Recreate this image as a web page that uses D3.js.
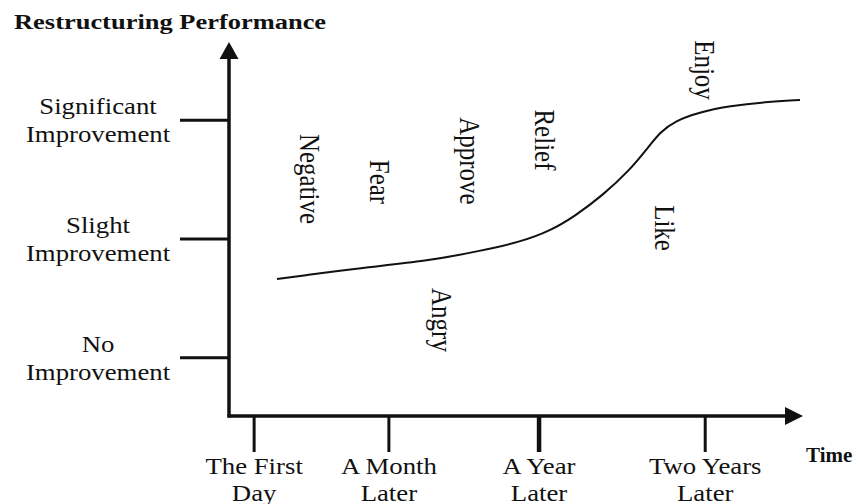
<!DOCTYPE html>
<html>
<head>
<meta charset="utf-8">
<script src="https://cdn.jsdelivr.net/npm/d3@7"></script>
<style>
    html, body { margin: 0; padding: 0; background: #fff; }
    #chart { width: 862px; height: 504px; }
    text { font-family: "Liberation Serif", "Times New Roman", serif; fill: #111; }
</style>
</head>
<body>
<div id="chart"></div>
<script>
//Datos
const yValues = [0, 1, 2];
const yLabels = [['No', 'Improvement'], ['Slight', 'Improvement'], ['Significant', 'Improvement']];

const xValues = [4.4, 28.0, 54.3, 83.4];
const xLabels = [['The First', 'Day'], ['A Month', 'Later'], ['A Year', 'Later'], ['Two Years', 'Later']];

//Curva de rendimiento
const curveX = [8.4, 12.4, 22.9, 34.7, 44.0, 51.0, 56.2, 60.6, 65.5, 70.2, 73.2, 75.5, 78.1, 82.5, 87.7, 93.9, 100];
const curveY = [0.664, 0.689, 0.757, 0.815, 0.900, 0.976, 1.068, 1.194, 1.371, 1.582, 1.759, 1.902, 1.995, 2.070, 2.121, 2.155, 2.172];

//Emociones
const emotions = ['Negative', 'Fear', 'Approve', 'Relief', 'Enjoy', 'Like', 'Angry'];
const emotionX = [12.4, 24.7, 40.5, 53.6, 81.6, 74.6, 35.6];
const emotionY = [1.506, 1.481, 1.658, 1.835, 2.424, 1.093, 0.319];

const COLOR_INK = '#111';

let width = 862, height = 504;

let svg = d3.select('#chart')
    .append('svg')
        .attr('width', width)
        .attr('height', height);

//Escalas
let x = d3.scaleLinear()
    .domain([0, 100])
    .range([229, 800]);

let y = d3.scaleLinear()
    .domain([-0.49, 2.66])
    .range([416, 42]);

let x0 = x(0), y0 = y(-0.49);

//Titulo
svg.append('text')
    .attr('transform', 'translate(14,29) scale(1.26,1)')
    .style('font-size', '21px')
    .style('font-weight', 'bold')
    .text('Restructuring Performance');

svg.append('text')
    .attr('transform', 'translate(806,462)')
    .style('font-size', '21px')
    .style('font-weight', 'bold')
    .text('Time');

//Eje Y
svg.append('line')
    .attr('x1', x0).attr('x2', x0)
    .attr('y1', y0 + 1.5).attr('y2', y(2.66) + 14)
    .attr('stroke', COLOR_INK)
    .attr('stroke-width', 3.5);

svg.append('path')
    .attr('d', `M${x0},${y(2.66)} L${x0 - 9.5},${y(2.66) + 17} L${x0 + 9.5},${y(2.66) + 17} Z`)
    .attr('fill', COLOR_INK);

//Eje X
svg.append('line')
    .attr('x1', x0 - 1.5).attr('x2', x(100) - 10)
    .attr('y1', y0).attr('y2', y0)
    .attr('stroke', COLOR_INK)
    .attr('stroke-width', 3.5);

svg.append('path')
    .attr('d', `M${x(100) + 3},${y0} L${x(100) - 15},${y0 - 9} L${x(100) - 15},${y0 + 9} Z`)
    .attr('fill', COLOR_INK);

//Ticks Y
let yTicks = svg.append('g').selectAll('g')
    .data(yValues)
    .enter()
    .append('g');

yTicks.append('line')
    .attr('x1', x0 - 49).attr('x2', x0)
    .attr('y1', function(d) { return y(d); })
    .attr('y2', function(d) { return y(d); })
    .attr('stroke', COLOR_INK)
    .attr('stroke-width', 3);

yTicks.each(function(d, i) {
    let g = d3.select(this);
    yLabels[i].forEach(function(line, j) {
        g.append('text')
            .attr('transform', 'translate(98,' + (y(d) - 6 + j * 28) + ') scale(1.19,1)')
            .attr('text-anchor', 'middle')
            .style('font-size', '22.5px')
            .text(line);
    });
});

//Ticks X
let xTicks = svg.append('g').selectAll('g')
    .data(xValues)
    .enter()
    .append('g');

xTicks.append('line')
    .attr('x1', function(d) { return x(d); })
    .attr('x2', function(d) { return x(d); })
    .attr('y1', y0).attr('y2', y0 + 36)
    .attr('stroke', COLOR_INK)
    .attr('stroke-width', function(d, i) { return i == 2 ? 4.5 : 3; });

xTicks.each(function(d, i) {
    let g = d3.select(this);
    xLabels[i].forEach(function(line, j) {
        g.append('text')
            .attr('transform', 'translate(' + x(d) + ',' + (y0 + 58 + j * 27) + ') scale(1.19,1)')
            .attr('text-anchor', 'middle')
            .style('font-size', '22.5px')
            .text(line);
    });
});

//Curva
let line = d3.line()
    .x(function(d) { return x(d[0]); })
    .y(function(d) { return y(d[1]); })
    .curve(d3.curveBasis);

svg.append('path')
    .datum(d3.zip(curveX, curveY))
    .attr('d', line)
    .attr('fill', 'none')
    .attr('stroke', COLOR_INK)
    .attr('stroke-width', 2);

//Etiquetas de emociones (giradas)
svg.append('g').selectAll('text')
    .data(emotions)
    .enter()
    .append('text')
    .attr('transform', function(d, i) {
        return 'translate(' + x(emotionX[i]) + ',' + y(emotionY[i]) + ') scale(1.22,1) rotate(90)';
    })
    .attr('text-anchor', 'middle')
    .style('font-size', '25px')
    .text(function(d) { return d; });
</script>
</body>
</html>
